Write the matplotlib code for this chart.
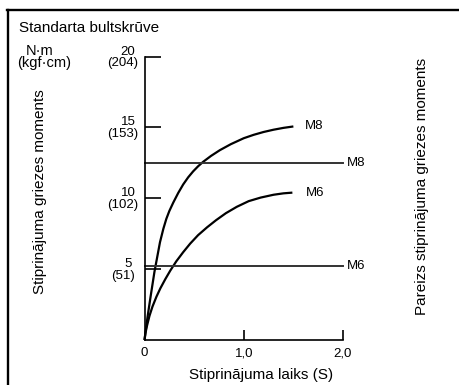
import matplotlib
matplotlib.use("Agg")
import matplotlib.pyplot as plt
from matplotlib.lines import Line2D

plt.rcParams['font.family'] = ['Liberation Sans', 'DejaVu Sans']

# Tightening time (s) vs torque (N·m) for the two bolt sizes
m8_time = [0, 0.03, 0.06, 0.1, 0.156, 0.19, 0.22, 0.25, 0.29, 0.34, 0.39, 0.44, 0.49,
           0.54, 0.59, 0.67, 0.76, 0.87, 1.0, 1.1, 1.2, 1.3, 1.4, 1.5]
m8_torque = [0, 1.6, 3.0, 4.8, 6.9, 7.85, 8.55, 9.1, 9.7, 10.38, 10.98, 11.48, 11.9,
             12.26, 12.57, 12.99, 13.4, 13.82, 14.24, 14.48, 14.68, 14.84, 14.97, 15.07]
m6_time = [0, 0.01, 0.025, 0.05, 0.08, 0.12, 0.16, 0.21, 0.26, 0.32, 0.39, 0.46, 0.54,
           0.63, 0.72, 0.82, 0.93, 1.05, 1.17, 1.3, 1.4, 1.49]
m6_torque = [0, 0.5, 1.0, 1.7, 2.35, 3.05, 3.65, 4.3, 4.9, 5.55, 6.2, 6.8, 7.4,
             7.95, 8.45, 8.95, 9.4, 9.8, 10.05, 10.25, 10.35, 10.4]

# Correct tightening torque levels
target_m8 = 12.5
target_m6 = 5.2

y_ticks = [5, 10, 15, 20]
y_ticks_kgf = ["(51)", "(102)", "(153)", "(204)"]
x_ticks = [1.0, 2.0]
x_tick_labels = ["0", "1,0", "2,0"]

W, H = 459, 385
fig = plt.figure(figsize=(W / 100, H / 100), dpi=100)

# frame around the figure (top and left edges)
fig.add_artist(Line2D([7.5 / W, 7.5 / W], [0, 1 - 9.5 / H], color='black', lw=1.7,
                      transform=fig.transFigure))
fig.add_artist(Line2D([7 / W, 1], [1 - 9.5 / H, 1 - 9.5 / H], color='black', lw=1.7,
                      transform=fig.transFigure))

x0, x1 = 144.5, 343.0
y0, y1 = 340.0, 56.6
ax = fig.add_axes([x0 / W, (H - y0) / H, (x1 - x0) / W, (y0 - y1) / H])
ax.set_xlim(0, 2)
ax.set_ylim(0, 20)
ax.patch.set_visible(False)
for s in ['top', 'right']:
    ax.spines[s].set_visible(False)
for s in ['left', 'bottom']:
    ax.spines[s].set_linewidth(1.2)
    ax.spines[s].set_color('black')

ax.set_yticks(y_ticks)
ax.set_yticklabels([])
ax.tick_params(axis='y', direction='in', length=11.5, width=1.2, color='black')
ax.set_xticks(x_ticks)
ax.set_xticklabels([])
ax.tick_params(axis='x', direction='in', length=7.5, width=1.2, color='black')

fs_tick = 9.5
for v, k in zip(y_ticks, y_ticks_kgf):
    ax.annotate(str(v), xy=(0, v), xytext=(-16.5, 5), textcoords='offset pixels',
                ha='center', va='center', fontsize=fs_tick, annotation_clip=False)
    ax.annotate(k, xy=(0, v), xytext=(-21.5, -6.5), textcoords='offset pixels',
                ha='center', va='center', fontsize=fs_tick, annotation_clip=False)

for v, lab in zip([0.0] + x_ticks, x_tick_labels):
    ax.annotate(lab, xy=(v, 0), xytext=(0, -13), textcoords='offset pixels',
                ha='center', va='center', fontsize=fs_tick, annotation_clip=False)

# torque build-up curves
ax.plot(m8_time, m8_torque, color='black', lw=1.6, clip_on=False,
        solid_capstyle='butt', solid_joinstyle='round')
ax.plot(m6_time, m6_torque, color='black', lw=1.6, clip_on=False,
        solid_capstyle='butt', solid_joinstyle='round')

# correct torque levels
ax.plot([0, 2.0], [target_m8, target_m8], color='#333333', lw=1.4, clip_on=False)
ax.plot([0, 2.0], [target_m6, target_m6], color='#333333', lw=1.4, clip_on=False)

fs_lab = 9.5
ax.annotate("M8", xy=(m8_time[-1], m8_torque[-1]), xytext=(12, 0), textcoords='offset pixels',
            ha='left', va='center', fontsize=fs_lab, annotation_clip=False)
ax.annotate("M6", xy=(m6_time[-1], m6_torque[-1]), xytext=(13, -0.5), textcoords='offset pixels',
            ha='left', va='center', fontsize=fs_lab, annotation_clip=False)
ax.annotate("M8", xy=(2.0, target_m8), xytext=(4, 0), textcoords='offset pixels',
            ha='left', va='center', fontsize=fs_lab, annotation_clip=False)
ax.annotate("M6", xy=(2.0, target_m6), xytext=(4, 0), textcoords='offset pixels',
            ha='left', va='center', fontsize=fs_lab, annotation_clip=False)

# titles and axis labels
fig.text(19 / W, 1 - 28 / H, "Standarta bultskrūve", ha='left', va='center', fontsize=11)
fig.text(40 / W, 1 - 51 / H, "N·m", ha='center', va='center', fontsize=10.5)
fig.text(44 / W, 1 - 63.5 / H, "(kgf·cm)", ha='center', va='center', fontsize=10.5)
fig.text(40 / W, 1 - 192 / H, "Stiprinājuma griezes moments", rotation=90,
         ha='center', va='center', fontsize=11)
fig.text(422 / W, 1 - 186 / H, "Pareizs stiprinājuma griezes moments", rotation=90,
         ha='center', va='center', fontsize=11)
fig.text(261 / W, 1 - 375 / H, "Stiprinājuma laiks (S)", ha='center', va='center', fontsize=11)

fig.savefig("out.png", dpi=100)
